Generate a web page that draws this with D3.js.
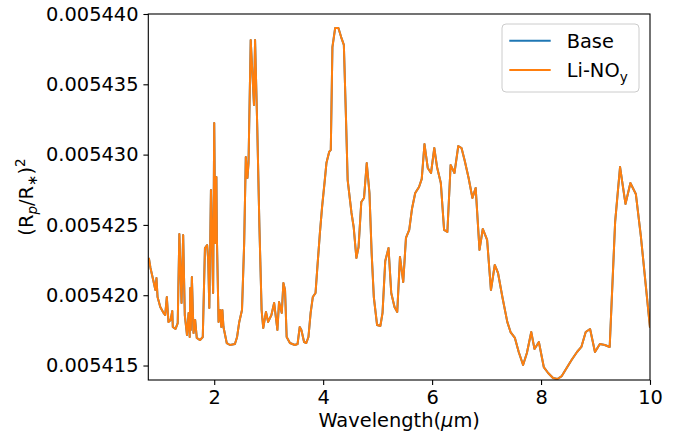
<!DOCTYPE html>
<html><head><meta charset="utf-8">
<script src="https://cdn.jsdelivr.net/npm/d3@7"></script>
<style>body{margin:0;background:#fff}text{font-family:"DejaVu Sans",sans-serif;fill:#000}</style>
</head><body><svg id="c" width="686" height="437"></svg>
<script>
const wavelength = [0.80,0.83,0.88,0.92,0.94,0.96,1.01,1.07,1.10,1.13,1.16,1.20,1.23,1.24,1.29,1.33,1.36,1.40,1.43,1.46,1.50,1.53,1.55,1.56,1.57,1.59,1.62,1.65,1.68,1.74,1.79,1.83,1.87,1.89,1.91,1.94,1.96,1.98,2.00,2.02,2.04,2.05,2.08,2.11,2.13,2.15,2.17,2.23,2.29,2.38,2.42,2.46,2.51,2.55,2.58,2.61,2.63,2.67,2.73,2.75,2.79,2.83,2.87,2.90,2.95,2.99,3.05,3.10,3.16,3.19,3.24,3.27,3.30,3.33,3.39,3.48,3.53,3.57,3.60,3.65,3.69,3.73,3.77,3.81,3.86,3.89,3.94,3.98,4.03,4.06,4.11,4.14,4.17,4.22,4.28,4.33,4.38,4.42,4.45,4.52,4.56,4.61,4.65,4.70,4.75,4.80,4.85,4.89,4.93,4.99,5.05,5.09,5.14,5.20,5.25,5.31,5.36,5.41,5.47,5.52,5.58,5.63,5.69,5.76,5.81,5.86,5.92,5.98,6.04,6.09,6.16,6.22,6.28,6.34,6.41,6.48,6.54,6.60,6.67,6.74,6.80,6.87,6.93,7.01,7.08,7.15,7.21,7.29,7.38,7.44,7.52,7.59,7.67,7.74,7.82,7.88,7.96,8.05,8.13,8.22,8.30,8.38,8.47,8.56,8.66,8.74,8.82,8.90,8.99,9.08,9.17,9.26,9.36,9.45,9.55,9.64,9.74,9.83,10.00];
const baseValues = [0.00542265,0.00542194,0.00542108,0.00542037,0.00542122,0.00541987,0.00541916,0.00541874,0.00541859,0.00541987,0.00541810,0.00541824,0.00541888,0.00541774,0.00541760,0.00541802,0.00542435,0.00541945,0.00542428,0.00541859,0.00541717,0.00541874,0.00541703,0.00542051,0.00541753,0.00542130,0.00541731,0.00541824,0.00541696,0.00541681,0.00541703,0.00542336,0.00542357,0.00542250,0.00541909,0.00542748,0.00542371,0.00542016,0.00543225,0.00542371,0.00542841,0.00542393,0.00541810,0.00541895,0.00541774,0.00541895,0.00541774,0.00541660,0.00541646,0.00541653,0.00541703,0.00541810,0.00541895,0.00542371,0.00542983,0.00542834,0.00542940,0.00543815,0.00543353,0.00543815,0.00543196,0.00542485,0.00541895,0.00541767,0.00541881,0.00541810,0.00541859,0.00541945,0.00541753,0.00541952,0.00541874,0.00542087,0.00542037,0.00541703,0.00541660,0.00541646,0.00541653,0.00541774,0.00541753,0.00541667,0.00541660,0.00541703,0.00541874,0.00541987,0.00542016,0.00542179,0.00542442,0.00542627,0.00542819,0.00542940,0.00543019,0.00543033,0.00543765,0.00543900,0.00543900,0.00543836,0.00543780,0.00543246,0.00542819,0.00542585,0.00542485,0.00542265,0.00542343,0.00542663,0.00542691,0.00542940,0.00542727,0.00542300,0.00541987,0.00541788,0.00541781,0.00541874,0.00542243,0.00542336,0.00542016,0.00541916,0.00541881,0.00542272,0.00542094,0.00542407,0.00542464,0.00542613,0.00542727,0.00542770,0.00542827,0.00543075,0.00542905,0.00542869,0.00543047,0.00542912,0.00542798,0.00542464,0.00542450,0.00542926,0.00542869,0.00543061,0.00543047,0.00542955,0.00542834,0.00542691,0.00542763,0.00542322,0.00542471,0.00542393,0.00542037,0.00542215,0.00542158,0.00541987,0.00541810,0.00541738,0.00541696,0.00541596,0.00541504,0.00541589,0.00541738,0.00541617,0.00541667,0.00541489,0.00541447,0.00541411,0.00541404,0.00541425,0.00541482,0.00541539,0.00541596,0.00541632,0.00541738,0.00541760,0.00541596,0.00541653,0.00541646,0.00541632,0.00542521,0.00542912,0.00542649,0.00542798,0.00542720,0.00542428,0.00541770];
const linoValues = [0.00542265,0.00542194,0.00542108,0.00542037,0.00542122,0.00541987,0.00541916,0.00541874,0.00541859,0.00541987,0.00541810,0.00541824,0.00541888,0.00541774,0.00541760,0.00541802,0.00542435,0.00541945,0.00542428,0.00541859,0.00541717,0.00541874,0.00541703,0.00542051,0.00541753,0.00542130,0.00541731,0.00541824,0.00541696,0.00541681,0.00541703,0.00542336,0.00542357,0.00542250,0.00541909,0.00542748,0.00542371,0.00542016,0.00543225,0.00542371,0.00542841,0.00542393,0.00541810,0.00541895,0.00541774,0.00541895,0.00541774,0.00541660,0.00541646,0.00541653,0.00541703,0.00541810,0.00541895,0.00542371,0.00542983,0.00542834,0.00542940,0.00543815,0.00543353,0.00543815,0.00543196,0.00542485,0.00541895,0.00541767,0.00541881,0.00541810,0.00541859,0.00541945,0.00541753,0.00541952,0.00541874,0.00542087,0.00542037,0.00541703,0.00541660,0.00541646,0.00541653,0.00541774,0.00541753,0.00541667,0.00541660,0.00541703,0.00541874,0.00541987,0.00542016,0.00542179,0.00542442,0.00542627,0.00542819,0.00542940,0.00543019,0.00543033,0.00543765,0.00543900,0.00543900,0.00543836,0.00543780,0.00543246,0.00542819,0.00542585,0.00542485,0.00542265,0.00542343,0.00542663,0.00542691,0.00542940,0.00542727,0.00542300,0.00541987,0.00541788,0.00541781,0.00541874,0.00542243,0.00542336,0.00542016,0.00541916,0.00541881,0.00542272,0.00542094,0.00542407,0.00542464,0.00542613,0.00542727,0.00542770,0.00542827,0.00543075,0.00542905,0.00542869,0.00543047,0.00542912,0.00542798,0.00542464,0.00542450,0.00542926,0.00542869,0.00543061,0.00543047,0.00542955,0.00542834,0.00542691,0.00542763,0.00542322,0.00542471,0.00542393,0.00542037,0.00542215,0.00542158,0.00541987,0.00541810,0.00541738,0.00541696,0.00541596,0.00541504,0.00541589,0.00541738,0.00541617,0.00541667,0.00541489,0.00541447,0.00541411,0.00541404,0.00541425,0.00541482,0.00541539,0.00541596,0.00541632,0.00541738,0.00541760,0.00541596,0.00541653,0.00541646,0.00541632,0.00542521,0.00542912,0.00542649,0.00542798,0.00542720,0.00542428,0.00541770];
const xTicks = [2, 4, 6, 8, 10];
const yTicks = [0.005415, 0.005420, 0.005425, 0.005430, 0.005435, 0.005440];
const xDomain = [0.79, 10];
const yDomain = [0.00541397, 0.005440];
const seriesNames = ["Base", "Li-NO"];
const seriesColors = ["#1f77b4", "#ff7f0e"];

const W = 686, H = 437;
const m = {left: 148.3, right: 36, top: 14, bottom: 57};
const svg = d3.select("#c");
const x = d3.scaleLinear().domain(xDomain).range([m.left, W - m.right]);
const y = d3.scaleLinear().domain(yDomain).range([H - m.bottom, m.top]);
const FS = 19.4;

const line = d3.line().x(d => x(d[0])).y(d => y(d[1]));
const series = [baseValues, linoValues];
svg.append("defs").append("clipPath").attr("id", "clip").append("rect")
  .attr("x", m.left).attr("y", m.top).attr("width", W - m.left - m.right).attr("height", H - m.top - m.bottom);
series.forEach((vals, i) => {
  svg.append("path").datum(wavelength.map((w, j) => [w, vals[j]]))
    .attr("d", line).attr("fill", "none").attr("stroke", seriesColors[i])
    .attr("stroke-width", 2).attr("stroke-linejoin", "round").attr("clip-path", "url(#clip)");
});

const xAxis = svg.append("g").attr("transform", `translate(0,${H - m.bottom})`)
  .call(d3.axisBottom(x).tickValues(xTicks).tickSize(4.9).tickPadding(4.9).tickFormat(d3.format("d")));
const yAxis = svg.append("g").attr("transform", `translate(${m.left},0)`)
  .call(d3.axisLeft(y).tickValues(yTicks).tickSize(4.9).tickPadding(4.9).tickFormat(d3.format(".6f")));
[xAxis, yAxis].forEach(a => {
  a.select(".domain").remove();
  a.selectAll(".tick line").attr("stroke", "#000").attr("stroke-width", 1.1);
  a.selectAll(".tick text").attr("font-size", FS).attr("font-family", "DejaVu Sans").attr("fill", "#000");
});
xAxis.selectAll(".tick text").attr("dy", "0.72em");

svg.append("rect").attr("x", m.left).attr("y", m.top)
  .attr("width", W - m.left - m.right).attr("height", H - m.top - m.bottom)
  .attr("fill", "none").attr("stroke", "#000").attr("stroke-width", 1.1);

// axis labels
const xl = svg.append("text").attr("x", (m.left + W - m.right) / 2).attr("y", 427)
  .attr("text-anchor", "middle").attr("font-size", FS);
xl.append("tspan").text("Wavelength(");
xl.append("tspan").attr("font-style", "italic").text("μ");
xl.append("tspan").text("m)");

const yl = svg.append("text").attr("transform", `translate(33,${(m.top + H - m.bottom) / 2}) rotate(-90)`)
  .attr("text-anchor", "middle").attr("font-size", FS);
yl.append("tspan").text("(R");
yl.append("tspan").attr("font-style", "italic").attr("font-size", FS * 0.7).attr("dy", 4).text("p");
yl.append("tspan").attr("dy", -4).text("/R");
yl.append("tspan").attr("font-size", FS * 0.7).attr("dy", 4).text("∗");
yl.append("tspan").attr("dy", -4).text(")");
yl.append("tspan").attr("font-size", FS * 0.7).attr("dy", -8).text("2");

// legend
const lg = svg.append("g");
lg.append("rect").attr("x", 502).attr("y", 24).attr("width", 137).attr("height", 68).attr("rx", 4)
  .attr("fill", "#fff").attr("fill-opacity", 0.8).attr("stroke", "#cccccc").attr("stroke-width", 1);
const legY = [40.7, 70];
seriesNames.forEach((n, i) => {
  lg.append("line").attr("x1", 509.3).attr("x2", 550.7).attr("y1", legY[i]).attr("y2", legY[i])
    .attr("stroke", seriesColors[i]).attr("stroke-width", 2);
  const t = lg.append("text").attr("x", 566.7).attr("y", legY[i] + 7).attr("font-size", FS);
  t.append("tspan").text(n);
  if (i === 1) t.append("tspan").attr("font-size", FS * 0.7).attr("dy", 5).text("y");
});
</script></body></html>
